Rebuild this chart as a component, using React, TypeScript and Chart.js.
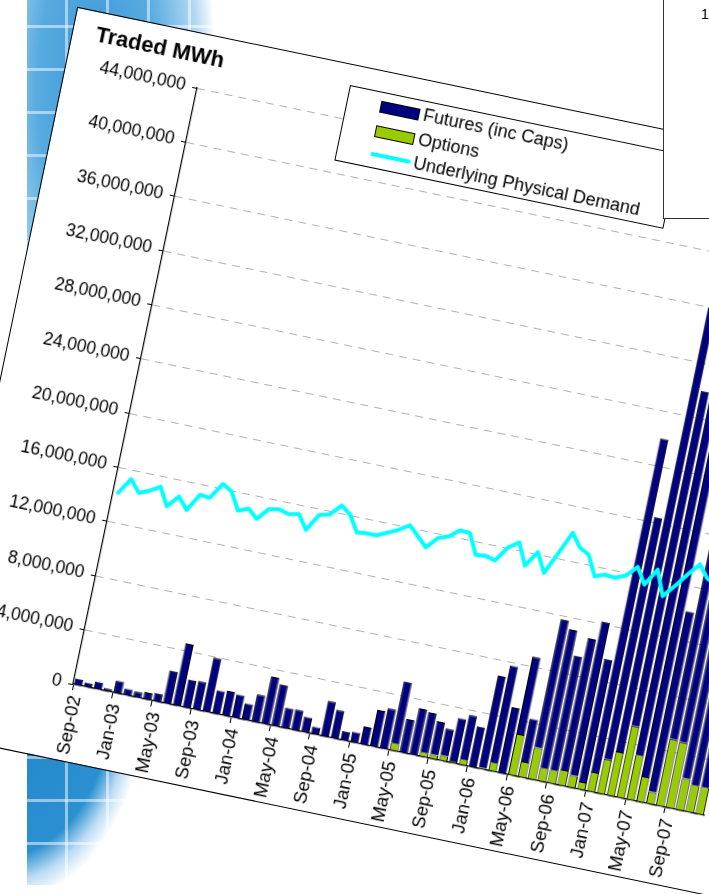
import React, { useEffect, useRef } from 'react';
import { Chart, registerables } from 'chart.js';

Chart.register(...registerables);

const MONTHS = [
  'Sep-02', 'Oct-02', 'Nov-02', 'Dec-02',
  'Jan-03', 'Feb-03', 'Mar-03', 'Apr-03', 'May-03', 'Jun-03', 'Jul-03', 'Aug-03', 'Sep-03', 'Oct-03', 'Nov-03', 'Dec-03',
  'Jan-04', 'Feb-04', 'Mar-04', 'Apr-04', 'May-04', 'Jun-04', 'Jul-04', 'Aug-04', 'Sep-04', 'Oct-04', 'Nov-04', 'Dec-04',
  'Jan-05', 'Feb-05', 'Mar-05', 'Apr-05', 'May-05', 'Jun-05', 'Jul-05', 'Aug-05', 'Sep-05', 'Oct-05', 'Nov-05', 'Dec-05',
  'Jan-06', 'Feb-06', 'Mar-06', 'Apr-06', 'May-06', 'Jun-06', 'Jul-06', 'Aug-06', 'Sep-06', 'Oct-06', 'Nov-06', 'Dec-06',
  'Jan-07', 'Feb-07', 'Mar-07', 'Apr-07', 'May-07', 'Jun-07', 'Jul-07', 'Aug-07', 'Sep-07', 'Oct-07', 'Nov-07', 'Dec-07',
];

// values in millions of MWh
const OPTIONS_M = [
  0, 0, 0, 0,
  0, 0, 0, 0, 0, 0, 0, 0, 0, 0, 0, 0,
  0, 0, 0, 0, 0, 0, 0, 0, 0, 0, 0, 0,
  0, 0, 0, 0, 0.56, 0, 0, 0.35, 0.32, 0.39, 0.14, 0.41,
  0, 0.1, 0.63, 0, 3.03, 1.15, 2.34, 1.0, 1.0, 1.15, 0.91, 0.57,
  1.45, 2.55, 3.25, 5.3, 3.3, 1.87, 0.9, 4.94, 4.85, 2.34, 2.0, 2.0,
];

const FUTURES_M = [
  0.45, 0.3, 0.53, 0.2,
  0.9, 0.47, 0.42, 0.5, 0.6, 2.4, 4.55, 2.05, 2.07, 3.95, 1.7, 1.8,
  1.7, 1.19, 2.0, 3.46, 3.05, 1.48, 1.5, 1.12, 0.54, 2.58, 2.07, 0.67,
  0.75, 1.3, 2.68, 2.95, 4.52, 2.45, 3.39, 2.9, 2.42, 1.98, 3.15, 3.25,
  2.98, 6.76, 7.13, 4.84, 5.7, 3.15, 9.46, 10.2, 8.41, 9.69, 11.32, 9.06,
  24.6, 17.85, 32.75, 24.7, 34.7, 30.1, 13.3, 35, 31, 25.7, 28, 28,
];

const DEMAND_M = [
  14.2, 15.36, 14.5, 14.8,
  15.25, 13.97, 14.83, 13.99, 15.27, 15.19, 16.36, 15.96, 14.7, 15.0, 14.4, 15.27,
  15.4, 15.2, 15.36, 14.34, 15.6, 15.78, 16.59, 16.07, 14.9, 15.0, 15.0, 15.35,
  15.7, 16.2, 15.55, 14.87, 15.7, 15.97, 16.58, 16.53, 15.07, 15.15, 14.96, 16.06,
  16.6, 15.03, 16.18, 14.8, 16.4, 18.06, 17.1, 16.74, 15.3, 15.57, 15.5, 15.8,
  16.6, 15.45, 16.7, 14.9, 15.8, 16.8, 17.7, 16.8, 16.5, 16.2, 16.0, 16.5,
];

const Y_MAX = 44000000;
const Y_STEP = 4000000;
const TITLE = 'Traded MWh';
const LEGEND_LABELS = ['Futures (inc Caps)', 'Options', 'Underlying Physical Demand'];
const PANEL_TEXT = '1';

const FONT = '"Liberation Sans", Arial, Helvetica, sans-serif';
const NAVY = '#000080';
const GREEN = '#99CC00';
const CYAN = '#00FFFF';

const CARD_W = 800;
const CARD_H = 740;

export default function App() {
  const ref = useRef<HTMLCanvasElement>(null);

  useEffect(() => {
    const canvas = ref.current;
    if (!canvas) return;
    const toMWh = (arr: number[]) => arr.map((v) => (v ? v * 1e6 : null));
    const chart = new Chart(canvas, {
      type: 'bar',
      data: {
        labels: MONTHS,
        datasets: [
          {
            type: 'line',
            label: LEGEND_LABELS[2],
            data: DEMAND_M.map((v) => v * 1e6),
            borderColor: CYAN,
            backgroundColor: CYAN,
            borderWidth: 4,
            pointRadius: 0,
            tension: 0,
            fill: false,
            stack: 'demand',
            order: 0,
            borderJoinStyle: 'round',
            borderCapStyle: 'round',
          } as any,
          {
            type: 'bar',
            label: LEGEND_LABELS[1],
            data: toMWh(OPTIONS_M),
            backgroundColor: GREEN,
            borderColor: '#000',
            borderWidth: 1,
            stack: 'traded',
            order: 1,
            categoryPercentage: 0.92,
            barPercentage: 0.92,
          } as any,
          {
            type: 'bar',
            label: LEGEND_LABELS[0],
            data: toMWh(FUTURES_M),
            backgroundColor: NAVY,
            borderColor: '#000',
            borderWidth: 1,
            stack: 'traded',
            order: 1,
            categoryPercentage: 0.92,
            barPercentage: 0.92,
          } as any,
        ],
      },
      options: {
        responsive: false,
        animation: false,
        devicePixelRatio: 1,
        layout: { padding: { top: 54, right: CARD_W - 783, left: 0, bottom: 0 } },
        plugins: {
          legend: { display: false },
          tooltip: { enabled: false },
          title: { display: false },
        },
        scales: {
          x: {
            stacked: true,
            offset: true,
            grid: {
              offset: true,
              drawOnChartArea: false,
              drawTicks: true,
              tickLength: 6,
              color: (c: any) => (c.index % 4 === 0 ? '#000' : 'rgba(0,0,0,0)'),
              tickColor: (c: any) => (c.index % 4 === 0 ? '#000' : 'rgba(0,0,0,0)'),
            },
            border: { display: true, color: '#000', width: 1.2 },
            ticks: {
              autoSkip: false,
              maxRotation: 90,
              minRotation: 90,
              padding: 5,
              color: '#000',
              font: { family: FONT, size: 18.5 },
              callback: (_v: any, i: number) => (i % 4 === 0 ? MONTHS[i] : ''),
            },
            afterFit: (s: any) => {
              s.height = CARD_H - 663;
            },
          },
          y: {
            stacked: true,
            min: 0,
            max: Y_MAX,
            ticks: {
              stepSize: Y_STEP,
              color: '#000',
              padding: 7,
              font: { family: FONT, size: 17.5 },
              callback: (v: any) => Number(v).toLocaleString('en-US'),
            },
            grid: {
              color: '#b0b0b0',
              lineWidth: 1,
              tickColor: '#000',
              tickLength: 5,
              tickBorderDash: [],
            },
            border: { display: true, color: '#000', width: 1.2, dash: [8, 6] },
            afterFit: (s: any) => {
              s.width = 133;
            },
          },
        },
      } as any,
    });
    return () => chart.destroy();
  }, []);

  const legendRow = (i: number) => 13 + i * 24.7;

  return (
    <div
      style={{
        position: 'fixed',
        left: 0,
        top: 0,
        width: 709,
        height: 894,
        overflow: 'hidden',
        background: '#fff',
      }}
    >
      {/* decorative background */}
      <div
        style={{
          position: 'absolute',
          left: 27,
          top: 0,
          width: 220,
          height: 885,
          background:
            'repeating-linear-gradient(0deg, transparent 0px, transparent 40px, rgba(255,255,255,0.5) 40px, rgba(255,255,255,0.5) 43px),' +
            'repeating-linear-gradient(90deg, transparent 0px, transparent 38px, rgba(255,255,255,0.5) 38px, rgba(255,255,255,0.5) 41px),' +
            'radial-gradient(ellipse 150px 215px at -30px 690px, #1f86c8 0%, #2b90d0 78%, rgba(120,185,230,0.5) 90%, rgba(255,255,255,0) 100%),' +
            'radial-gradient(ellipse 120px 330px at 70px 90px, #3a97d5 0%, #58abe0 50%, #b3d9f2 85%, rgba(255,255,255,0) 100%)',
        }}
      />
      {/* rotated chart card */}
      <div
        style={{
          position: 'absolute',
          left: 78,
          top: 8,
          width: CARD_W,
          height: CARD_H,
          transform: 'rotate(11.75deg)',
          transformOrigin: '0 0',
          background: '#fff',
          outline: '1.5px solid #000',
        }}
      >
        <canvas
          ref={ref}
          width={CARD_W}
          height={CARD_H}
          style={{ position: 'absolute', left: 0, top: 0, width: CARD_W, height: CARD_H, display: 'block' }}
        />
        <div
          style={{
            position: 'absolute',
            left: 23,
            top: 8.5,
            fontFamily: FONT,
            fontWeight: 'bold',
            fontSize: 22,
            lineHeight: '26px',
            color: '#000',
            whiteSpace: 'nowrap',
          }}
        >
          {TITLE}
        </div>
        <div
          style={{
            position: 'absolute',
            left: 282,
            top: 20,
            width: 336,
            height: 77,
            boxSizing: 'border-box',
            border: '1px solid #000',
            background: '#fff',
            fontFamily: FONT,
            fontSize: 18,
            color: '#000',
          }}
        >
          <div
            style={{
              position: 'absolute',
              left: 33,
              top: legendRow(0) - 5,
              width: 38,
              height: 10,
              background: NAVY,
              border: '1px solid #000',
            }}
          />
          <div
            style={{
              position: 'absolute',
              left: 33,
              top: legendRow(1) - 5,
              width: 38,
              height: 10,
              background: GREEN,
              border: '1px solid #000',
            }}
          />
          <div
            style={{
              position: 'absolute',
              left: 33,
              top: legendRow(2) - 2,
              width: 41,
              height: 4,
              background: CYAN,
              borderRadius: 2,
            }}
          />
          {LEGEND_LABELS.map((t, i) => (
            <div
              key={t}
              style={{
                position: 'absolute',
                left: 77,
                top: legendRow(i) - 10,
                lineHeight: '20px',
                whiteSpace: 'nowrap',
              }}
            >
              {t}
            </div>
          ))}
        </div>
      </div>
      {/* panel at top right */}
      <div
        style={{
          position: 'absolute',
          left: 663,
          top: -2,
          width: 60,
          height: 221,
          boxSizing: 'border-box',
          background: '#fff',
          borderLeft: '1.5px solid #333',
          borderBottom: '1.5px solid #333',
        }}
      >
        <div
          style={{
            position: 'absolute',
            left: 37,
            top: 8,
            fontFamily: FONT,
            fontSize: 14,
            lineHeight: '16px',
            color: '#000',
          }}
        >
          {PANEL_TEXT}
        </div>
      </div>
    </div>
  );
}
